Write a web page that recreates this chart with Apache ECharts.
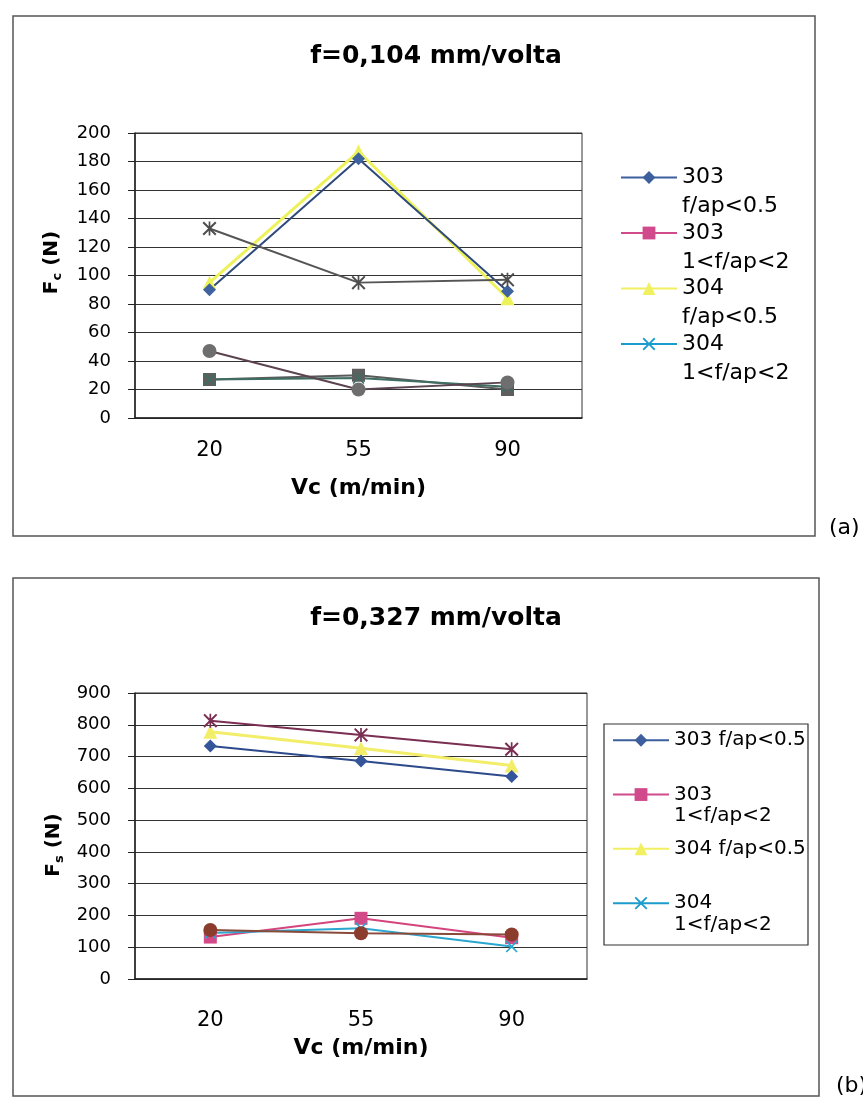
<!DOCTYPE html>
<html>
<head>
<meta charset="utf-8">
<script src="https://cdn.jsdelivr.net/npm/echarts@6.0.0/dist/echarts.min.js"></script>
<style>
    body { margin: 0; background: #fff; }
    #grafA { width: 863px; height: 560px; }
    #grafB { width: 863px; height: 540px; }
</style>
</head>
<body>
<div id="grafA"></div>
<div id="grafB"></div>
<script>
// eixo x: velocidade de corte (m/min)
var categorias = ['20', '55', '90'];
var nomesSeries = ['303 f/ap<0.5', '303 1<f/ap<2', '304 f/ap<0.5', '304 1<f/ap<2', 'Série 5', 'Série 6'];

// legendas (a) e (b)
var legendaA = [' \n303\nf/ap<0.5', ' \n303\n1<f/ap<2', ' \n304\nf/ap<0.5', ' \n304\n1<f/ap<2'];
var legendaB = [' \n303 f/ap<0.5\n ', ' \n303\n1<f/ap<2', ' \n304 f/ap<0.5\n ', ' \n304\n1<f/ap<2'];

// (a) f=0,104 mm/volta - Fc (N)
var fc303a = [90, 182, 89];
var fc303b = [27, 30, 20];
var fc304a = [95, 187, 84];
var fc304b = [27, 28, 22];
var fcSerie5 = [133, 95, 97];
var fcSerie6 = [47, 20, 25];

// (b) f=0,327 mm/volta - Fs (N)
var fs303a = [733, 686, 637];
var fs303b = [132, 191, 130];
var fs304a = [778, 726, 672];
var fs304b = [145, 160, 102];
var fsSerie5 = [813, 768, 723];
var fsSerie6 = [154, 144, 140];

var fonte = 'DejaVu Sans';
var simboloX = 'path://M1,0 L5,4 L9,0 L10,1 L6,5 L10,9 L9,10 L5,6 L1,10 L0,9 L4,5 L0,1 Z';
var simboloAst = simboloX + ' M4.4,0 L5.6,0 L5.6,10 L4.4,10 Z';
var simbolos = ['diamond', 'rect', 'triangle', simboloX, simboloAst, 'circle'];
var coresLegenda = ['#3d5f9e', '#d14a8b', '#f0f060', '#1c9ccc'];

function serie(i, dados, corLinha, corSimbolo, tam, larg) {
    return {
        name: nomesSeries[i],
        type: 'line',
        data: dados,
        symbol: simbolos[i],
        symbolSize: tam,
        lineStyle: { color: corLinha, width: larg },
        itemStyle: { color: corSimbolo }
    };
}

function itensLegenda() {
    var itens = [];
    for (var i = 0; i < 4; i++) {
        itens.push({
            name: nomesSeries[i],
            itemStyle: { color: coresLegenda[i] },
            lineStyle: { color: coresLegenda[i], width: 2 }
        });
    }
    return itens;
}

function montaOpcao(cfg) {
    return {
        animation: false,
        backgroundColor: '#fff',
        title: [
            {
                text: cfg.titulo,
                left: 436, top: cfg.tituloTop, padding: 0, textAlign: 'center',
                textStyle: { fontFamily: fonte, fontWeight: 'bold', fontSize: 25, color: '#000' }
            },
            {
                text: cfg.letra,
                left: cfg.letraLeft, top: cfg.letraTop, padding: 0,
                textStyle: { fontFamily: fonte, fontWeight: 'normal', fontSize: 22, color: '#000' }
            }
        ],
        graphic: cfg.molduras,
        legend: {
            orient: 'vertical',
            left: cfg.legLeft, top: cfg.legTop, padding: 0,
            itemWidth: 56, itemHeight: 16,
            itemGap: cfg.legGap,
            selectedMode: false,
            data: itensLegenda(),
            formatter: function (name) {
                return cfg.legTextos[nomesSeries.indexOf(name)];
            },
            textStyle: { fontFamily: fonte, fontSize: cfg.legFonte, lineHeight: cfg.legLinha, color: '#000' }
        },
        grid: {
            left: 135, top: 133, width: cfg.gridW, height: cfg.gridH,
            show: true, borderColor: '#333', borderWidth: 1,
            outerBoundsMode: 'none'
        },
        xAxis: {
            type: 'category',
            data: categorias,
            name: 'Vc (m/min)',
            nameLocation: 'middle',
            nameGap: cfg.xNomeGap,
            nameTextStyle: { fontFamily: fonte, fontWeight: 'bold', fontSize: 22, color: '#000' },
            axisLine: { lineStyle: { color: '#222', width: 1.5 } },
            axisTick: { length: 7, lineStyle: { color: '#222' } },
            axisLabel: { margin: cfg.xMargem, fontFamily: fonte, fontSize: 21, color: '#000' }
        },
        yAxis: {
            type: 'value',
            min: 0, max: cfg.yMax, interval: cfg.yPasso,
            name: cfg.yNome,
            nameLocation: 'middle',
            nameGap: cfg.yNomeGap,
            nameTextStyle: {
                padding: cfg.yNomePad,
                rich: {
                    f: { fontFamily: fonte, fontWeight: 'bold', fontSize: 20, color: '#000', lineHeight: 24 },
                    s: { fontFamily: fonte, fontWeight: 'bold', fontSize: 13, color: '#000', lineHeight: 14, verticalAlign: 'bottom' }
                }
            },
            axisLine: { show: true, lineStyle: { color: '#222', width: 1.5 } },
            axisTick: { show: true, length: 7, lineStyle: { color: '#222' } },
            axisLabel: { margin: 24, fontFamily: fonte, fontSize: 18, color: '#000' },
            splitLine: { lineStyle: { color: '#333', width: 1 } }
        },
        series: cfg.series
    };
}

// grafico (a)
var chartA = echarts.init(document.getElementById('grafA'));
chartA.setOption(montaOpcao({
    titulo: 'f=0,104 mm/volta', tituloTop: 44,
    letra: '(a)', letraLeft: 829, letraTop: 517,
    molduras: [{
        type: 'rect', shape: { x: 13, y: 16, width: 802, height: 520 },
        style: { fill: 'none', stroke: '#555', lineWidth: 1.5 }
    }],
    legLeft: 620, legTop: 134, legGap: -31.5, legFonte: 22, legLinha: 29, legTextos: legendaA,
    gridW: 447, gridH: 285,
    xNomeGap: 59, xMargem: 22,
    yMax: 200, yPasso: 20, yNome: '{f|F}{s|c}{f| (N)}', yNomeGap: 71, yNomePad: [0, 0, 0, 26],
    series: [
        serie(2, fc304a, '#eef25a', '#eef25a', 14, 3),
        serie(0, fc303a, '#2f4a7a', '#3f63a0', 13, 2),
        serie(1, fc303b, '#5a5a5a', '#5e5e5e', 13, 2),
        serie(3, fc304b, '#3e6e62', '#3e6e62', 12, 2),
        serie(4, fcSerie5, '#555555', '#4d4d4d', 14, 2),
        serie(5, fcSerie6, '#5b4450', '#6e6e6e', 14, 2)
    ]
}));

// grafico (b)
var chartB = echarts.init(document.getElementById('grafB'));
chartB.setOption(montaOpcao({
    titulo: 'f=0,327 mm/volta', tituloTop: 46,
    letra: '(b)', letraLeft: 836, letraTop: 515,
    molduras: [
        {
            type: 'rect', shape: { x: 13, y: 18, width: 806, height: 518 },
            style: { fill: 'none', stroke: '#555', lineWidth: 1.5 }
        },
        {
            type: 'rect', shape: { x: 604, y: 164, width: 204, height: 221 },
            style: { fill: 'none', stroke: '#333', lineWidth: 1.2 }
        }
    ],
    legLeft: 612, legTop: 148, legGap: -10.2, legFonte: 20, legLinha: 21.5, legTextos: legendaB,
    gridW: 452, gridH: 286,
    xNomeGap: 58, xMargem: 31,
    yMax: 900, yPasso: 100, yNome: '{f|F}{s|s}{f| (N)}', yNomeGap: 62, yNomePad: [0, 18, 0, 0],
    series: [
        serie(2, fs304a, '#f2ee6a', '#f2ee6a', 14, 3),
        serie(0, fs303a, '#2c4a8c', '#35559a', 13, 2),
        serie(1, fs303b, '#d4457e', '#d24a88', 13, 2),
        serie(3, fs304b, '#2aa6cf', '#2aa6cf', 12, 2),
        serie(4, fsSerie5, '#7a2e52', '#7a2e52', 14, 2),
        serie(5, fsSerie6, '#8a4a3a', '#8c3c2c', 14, 2)
    ]
}));
</script>
</body>
</html>
